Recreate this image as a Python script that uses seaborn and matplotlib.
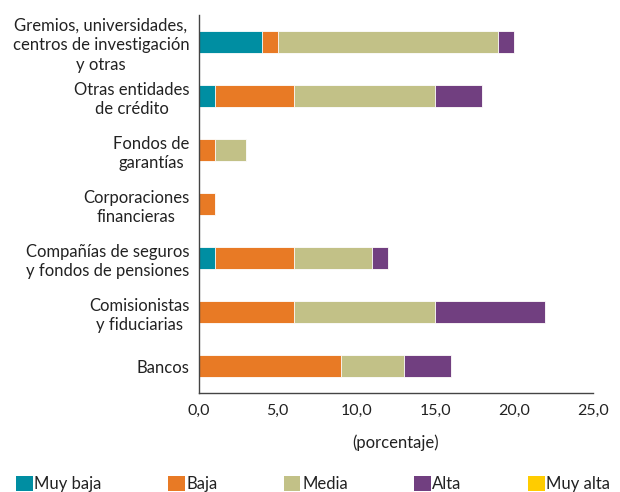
import matplotlib
matplotlib.use("Agg")
import matplotlib.pyplot as plt
import seaborn as sns
import pandas as pd
import numpy as np
from matplotlib.patches import Patch
from matplotlib.ticker import FixedLocator, FuncFormatter

categorias = [
    "Gremios, universidades,\ncentros de investigación\ny otras",
    "Otras entidades\nde crédito",
    "Fondos de\ngarantías",
    "Corporaciones\nfinancieras",
    "Compañías de seguros\ny fondos de pensiones",
    "Comisionistas\ny fiduciarias",
    "Bancos",
]
niveles = ["Muy baja", "Baja", "Media", "Alta", "Muy alta"]
muy_baja = [4.0, 1.0, 0.0, 0.0, 1.0, 0.0, 0.0]
baja = [1.0, 5.0, 1.0, 1.0, 5.0, 6.0, 9.0]
media = [14.0, 9.0, 2.0, 0.0, 5.0, 9.0, 4.0]
alta = [1.0, 3.0, 0.0, 0.0, 1.0, 7.0, 3.0]
muy_alta = [0.0, 0.0, 0.0, 0.0, 0.0, 0.0, 0.0]
colores = ["#008ea2", "#e87a25", "#c2c187", "#713f80", "#ffcc00"]

sns.set_style("white")
plt.rcParams["font.family"] = ["Lato", "DejaVu Sans"]
texto = "#222222"

df = pd.DataFrame({"categoria": categorias, "Muy baja": muy_baja, "Baja": baja,
                   "Media": media, "Alta": alta, "Muy alta": muy_alta})
acum = df[niveles].cumsum(axis=1)
acum["categoria"] = df["categoria"]

fig = plt.figure(figsize=(6.2, 4.92), dpi=100)
ax = fig.add_axes([0.321, 0.201, 0.635, 0.7685])

# stacked bars: draw cumulative totals from last to first
for nivel, color in reversed(list(zip(niveles, colores))):
    sns.barplot(data=acum, x=nivel, y="categoria", order=categorias, orient="h",
                color=color, width=0.42, edgecolor="white", linewidth=0.6,
                saturation=1, ax=ax)

ax.set_xlim(0, 25)
ax.set_ylim(6.5, -0.5)
ax.set_xticks(np.arange(0, 26, 5))
ax.xaxis.set_major_formatter(FuncFormatter(lambda v, p: f"{v:.1f}".replace(".", ",")))
ax.set_xlabel("(porcentaje)", fontsize=12, color=texto, labelpad=12)
ax.set_ylabel("")
ax.tick_params(axis="x", direction="in", length=4, width=0.8, color="#444444",
               labelsize=11.5, labelcolor=texto, pad=8)
ax.tick_params(axis="y", which="major", length=0, labelsize=12, labelcolor=texto, pad=7)
ax.yaxis.set_minor_locator(FixedLocator(np.arange(-0.5, 7.0, 1.0)))
ax.tick_params(axis="y", which="minor", direction="in", length=4, width=0.8, color="#444444")
for lab in ax.get_yticklabels():
    lab.set_multialignment("center")
    lab.set_linespacing(1.3)

sns.despine(ax=ax, top=True, right=True)
for s in ["left", "bottom"]:
    ax.spines[s].set_color("#444444")
    ax.spines[s].set_linewidth(1.0)

handles = [Patch(facecolor=c, edgecolor="none") for c in colores]
fig.legend(handles, niveles, loc="lower left", ncol=5, mode="expand",
           bbox_to_anchor=(0.015, -0.014, 0.98, 0.05), frameon=False,
           fontsize=12, handlelength=1.0, handleheight=1.0, handletextpad=0.1,
           labelcolor=texto, borderaxespad=0)

fig.savefig("out.png", dpi=100)
